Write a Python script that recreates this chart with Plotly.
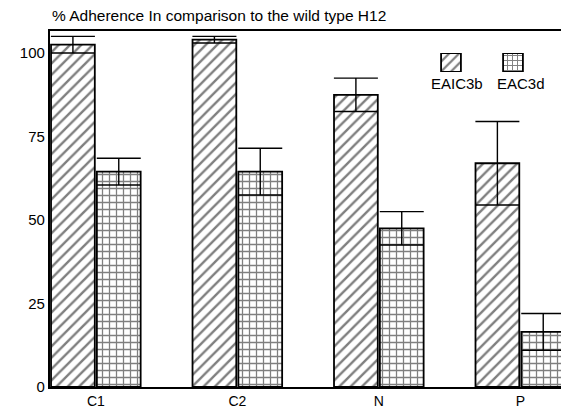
import plotly.graph_objects as go

categories = ["C1", "C2", "N", "P"]
series_names = ["EAIC3b", "EAC3d"]
eaic3b = [102.5, 104.0, 87.5, 67.0]
eaic3b_err = [2.5, 1.0, 5.0, 12.5]
eac3d = [64.5, 64.5, 47.5, 16.5]
eac3d_err = [4.0, 7.0, 5.0, 5.5]
y_ticks = [0, 25, 50, 75, 100]
patterns = ["/", "+"]

font = "Liberation Sans, Arial, sans-serif"

# page body has an 8px margin: figure spans page pixels 8..569 x 8..410
OFF = 8
W, H = 569 - OFF, 410 - OFF
L, R, T, B = 50 - OFF, 2, 31 - OFF, 23
pw, ph = W - L - R, H - T - B


def xd(px):  # reference page pixel -> paper x
    return (px - OFF - L) / pw


def yd(py):  # reference page pixel -> paper y
    return (H - B - (py - OFF)) / ph


fig = go.Figure()
for name, vals, errs, pat in [(series_names[0], eaic3b, eaic3b_err, patterns[0]),
                              (series_names[1], eac3d, eac3d_err, patterns[1])]:
    fig.add_trace(go.Bar(
        x=categories, y=vals, name=name, showlegend=False,
        marker=dict(color="white", line=dict(color="black", width=1.8),
                    pattern=dict(shape=pat, fgcolor="black", bgcolor="white",
                                 size=8 if pat == "/" else 7,
                                 solidity=0.3 if pat == "/" else 0.33)),
        error_y=dict(type="data", array=errs, visible=True, color="black",
                     thickness=1.4, width=22),
    ))

# legend keys in an inset axis (square above the label)
for i, (name, pat) in enumerate(zip(series_names, patterns)):
    fig.add_trace(go.Bar(
        x=[i], y=[1], xaxis="x2", yaxis="y2", showlegend=False, width=0.32,
        marker=dict(color="white", line=dict(color="black", width=1.8),
                    pattern=dict(shape=pat, fgcolor="black", bgcolor="white",
                                 size=7 if pat == "/" else 5,
                                 solidity=0.32 if pat == "/" else 0.35)),
        hoverinfo="skip",
    ))
    fig.add_annotation(x=xd(457 + 64 * i), y=yd(83), xref="paper", yref="paper",
                       text=name, showarrow=False, xanchor="center",
                       yanchor="middle",
                       font=dict(family=font, size=15, color="black"))

fig.update_layout(
    width=W, height=H,
    margin=dict(l=L, r=R, t=T, b=B, autoexpand=False),
    paper_bgcolor="white", plot_bgcolor="white",
    barmode="group", bargap=0.352, bargroupgap=0.045,
    font=dict(family=font, size=15, color="black"),
    xaxis=dict(range=[-0.324, 3.33], showline=True, linecolor="black",
               linewidth=1.5, mirror=True, ticks="", showgrid=False,
               tickfont=dict(size=14), zeroline=False, ticklabelstandoff=0,
               automargin=False),
    yaxis=dict(range=[0, 106.6], tickvals=y_ticks, showline=True,
               linecolor="black", linewidth=2.2, ticks="", showgrid=False,
               zeroline=False, tickfont=dict(size=15), automargin=False),
    xaxis2=dict(domain=[xd(420), xd(544)], range=[-0.5, 1.5], visible=False,
                anchor="y2"),
    yaxis2=dict(domain=[yd(72), yd(53)], range=[0, 1], visible=False,
                anchor="x2"),
)
fig.add_annotation(x=0, y=1, xref="paper", yref="paper", xanchor="left",
                   yanchor="bottom", yshift=5, showarrow=False,
                   text="% Adherence In comparison to the wild type H12",
                   font=dict(family=font, size=15.5, color="black"))

fig.write_html("out.html")
